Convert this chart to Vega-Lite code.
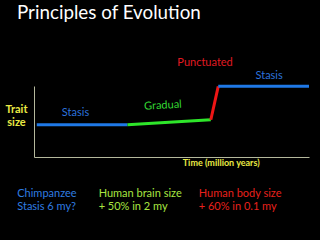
{
  "$schema": "https://vega.github.io/schema/vega-lite/v6.json",
  "autosize": "none",
  "width": 275,
  "height": 71,
  "padding": {"left": 34, "top": 86, "right": 11, "bottom": 83},
  "background": "black",
  "config": {"view": {"stroke": null}, "font": "Lato"},
  "title": {"text": "Principles of Evolution", "anchor": "start", "frame": "group", "dx": -17, "offset": 34, "fontSize": 18.8, "font": "Lato", "fontWeight": "normal", "color": "white"},
  "datasets": {
    "segments": [
      {"phase": "stasis", "label": "Stasis", "t0": 0.1, "t1": 3.4, "s0": 4.55, "s1": 4.55, "lt": 1.51, "ls": 6.24},
      {"phase": "gradual", "label": "Gradual", "t0": 3.4, "t1": 6.43, "s0": 4.55, "s1": 5.25, "lt": 4.69, "ls": 7.23},
      {"phase": "punctuated", "label": "Punctuated", "t0": 6.43, "t1": 6.7, "s0": 5.25, "s1": 9.95, "lt": 6.22, "ls": 13.2},
      {"phase": "stasis", "label": "Stasis", "t0": 6.7, "t1": 10, "s0": 9.95, "s1": 9.95, "lt": 8.55, "ls": 11.45}
    ],
    "notes": [
      {"group": "chimp", "t": -0.61, "s": -5.21, "text": "Chimpanzee"},
      {"group": "chimp", "t": -0.61, "s": -7.0, "text": "Stasis 6 my?"},
      {"group": "brain", "t": 2.35, "s": -5.21, "text": "Human brain size"},
      {"group": "brain", "t": 2.35, "s": -7.0, "text": "+ 50% in 2 my"},
      {"group": "body", "t": 5.99, "s": -5.21, "text": "Human body size"},
      {"group": "body", "t": 5.99, "s": -7.0, "text": "+ 60% in 0.1 my"}
    ]
  },
  "resolve": {"scale": {"color": "independent"}},
  "layer": [
    {
      "data": {"name": "segments"},
      "mark": {"type": "rule", "strokeWidth": 3, "strokeCap": "butt"},
      "encoding": {
        "x": {"field": "t0", "type": "quantitative", "scale": {"domain": [0, 10], "nice": false, "zero": false},
          "axis": {"title": "Time (million years)", "ticks": false, "labels": false, "grid": false, "domainColor": "#b4b89c", "domainWidth": 1, "titleColor": "#eaea44", "titleFont": "Lato", "titleFontSize": 9, "titleFontWeight": "bold", "titleX": 186.7, "titleY": 5.5, "titleAlign": "center", "titleBaseline": "middle"}},
        "x2": {"field": "t1"},
        "y": {"field": "s0", "type": "quantitative", "scale": {"domain": [0, 10], "nice": false, "zero": false},
          "axis": {"title": ["Trait", "size"], "ticks": false, "labels": false, "grid": false, "domainColor": "#b4b89c", "domainWidth": 1, "titleColor": "#eaea44", "titleFont": "Lato", "titleFontSize": 11, "titleFontWeight": "bold", "titleAngle": 0, "titleX": -18, "titleY": 23, "titleAlign": "center", "titleBaseline": "middle", "titleLineHeight": 13}},
        "y2": {"field": "s1"},
        "color": {"field": "phase", "type": "nominal", "scale": {"domain": ["stasis", "gradual", "punctuated"], "range": ["#1f78e6", "#2ee62a", "#ee1515"]}, "legend": null}
      }
    },
    {
      "data": {"name": "segments"},
      "transform": [{"filter": "datum.phase !== 'gradual'"}],
      "mark": {"type": "text", "font": "Lato", "fontSize": 11, "align": "center", "baseline": "middle"},
      "encoding": {
        "x": {"field": "lt", "type": "quantitative"},
        "y": {"field": "ls", "type": "quantitative"},
        "text": {"field": "label"},
        "color": {"field": "phase", "type": "nominal", "scale": {"domain": ["stasis", "gradual", "punctuated"], "range": ["#2c72dc", "#33d833", "#e01a22"]}, "legend": null}
      }
    },
    {
      "data": {"name": "segments"},
      "transform": [{"filter": "datum.phase === 'gradual'"}],
      "mark": {"type": "text", "font": "Lato", "fontSize": 11, "align": "center", "baseline": "middle", "angle": -3, "color": "#33d833"},
      "encoding": {
        "x": {"field": "lt", "type": "quantitative"},
        "y": {"field": "ls", "type": "quantitative"},
        "text": {"field": "label"}
      }
    },
    {
      "data": {"name": "notes"},
      "mark": {"type": "text", "font": "Lato", "fontSize": 11, "align": "left", "baseline": "middle"},
      "encoding": {
        "x": {"field": "t", "type": "quantitative"},
        "y": {"field": "s", "type": "quantitative"},
        "text": {"field": "text"},
        "color": {"field": "group", "type": "nominal", "scale": {"domain": ["chimp", "brain", "body"], "range": ["#2f7de0", "#a8e640", "#e8201c"]}, "legend": null}
      }
    }
  ]
}
